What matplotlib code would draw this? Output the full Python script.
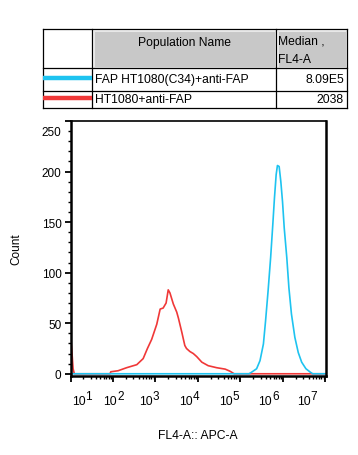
import matplotlib
matplotlib.use("Agg")
import matplotlib.pyplot as plt
import matplotlib.transforms as mtrans
from matplotlib.patches import Rectangle
from matplotlib.ticker import FixedLocator, NullFormatter

plt.rcParams['font.family'] = ['Liberation Sans', 'DejaVu Sans']

# ---------------- data ----------------
pop_names = ["FAP HT1080(C34)+anti-FAP", "HT1080+anti-FAP"]
medians = ["8.09E5", "2038"]
pop_colors = ["#1ec3f0", "#f03838"]

red_x = [10, 10.7, 11.5, 12.3, 85, 89, 132, 209, 363, 513, 646, 813, 1072, 1288,
         1514, 1778, 1995, 2188, 2630, 3162, 3467, 4169, 4898, 5370, 6457, 7762,
         9333, 12300, 17380, 27540, 43650, 56230, 61660, 70800, 1.02e7]
red_y = [37, 24, 5, 0, 0, 2, 3, 6, 9, 15, 25, 34, 49, 64,
         65, 70, 83, 80, 69, 61, 55, 41, 28, 25, 22, 20,
         17, 11.5, 8, 6, 4.6, 2.6, 1.6, 0, 0]

cyan_x = [10, 158500, 182000, 239900, 288400, 346700, 389000, 446700, 512900,
          575400, 631000, 691800, 741300, 812800, 891300, 977200, 1072000,
          1230000, 1380000, 1585000, 1905000, 2291000, 2754000, 3467000,
          4365000, 5012000, 1.02e7]
cyan_y = [0, 0, 1.5, 5, 13, 29.5, 52, 82, 115, 147, 174, 197, 206, 205, 190,
          170, 144, 115, 85, 59, 36, 21, 11.5, 5, 1.7, 0, 0]

y_ticks = [0, 50, 100, 150, 200, 250]
x_decades = [1, 2, 3, 4, 5, 6, 7]

# label shift (pixels) of each decade label relative to its tick, as drawn by the source software
x_label_shift = [10, -1, -8, -10, -13, -16, -20]

# ---------------- figure ----------------
W, H = 358, 456
fig = plt.figure(figsize=(W / 100, H / 100), dpi=100)

# table overlay in pixel coordinates
tab = fig.add_axes([0, 0, 1, 1])
tab.set_xlim(0, W)
tab.set_ylim(H, 0)
tab.axis('off')

FS = 8.7
cols = [43, 92, 276, 347]
rows = [30, 69, 91.5, 109]
for c in (1, 2):
    tab.add_patch(Rectangle((cols[c] + 1.5, rows[0] + 1.5), cols[c + 1] - cols[c] - 3,
                            rows[1] - rows[0] - 3, facecolor="#c8c8c8",
                            edgecolor="#e8e8e8", lw=0.8))
for yv in rows:
    tab.plot([cols[0], cols[-1]], [yv, yv], color="black", lw=0.9)
for xv in cols:
    tab.plot([xv, xv], [rows[0], rows[-1]], color="black", lw=0.9)

tab.text((cols[1] + cols[2]) / 2, 43, "Population Name", ha='center', va='center', fontsize=FS)
tab.text(cols[2] + 2, 41, "Median ,", ha='left', va='center', fontsize=FS)
tab.text(cols[2] + 2, 60, "FL4-A", ha='left', va='center', fontsize=FS)
for i, (nm, md, colr) in enumerate(zip(pop_names, medians, pop_colors)):
    yc = (rows[i + 1] + rows[i + 2]) / 2
    tab.plot([cols[0], cols[1]], [yc - 1.5, yc - 1.5], color=colr, lw=3.2, solid_capstyle='butt')
    tab.text(cols[1] + 3, yc - 0.5, nm, ha='left', va='center', fontsize=FS)
    tab.text(cols[3] - 3, yc - 0.5, md, ha='right', va='center', fontsize=FS)

# histogram axes
AX_L, AX_R, AX_T, AX_B = 70.5, 326, 122, 377
ax = fig.add_axes([AX_L / W, 1 - AX_B / H, (AX_R - AX_L) / W, (AX_B - AX_T) / H])
ax.plot(red_x, red_y, color=pop_colors[1], lw=1.2)
ax.plot(cyan_x, cyan_y, color=pop_colors[0], lw=1.2)
ax.set_xscale('log')
ax.set_xlim(10, 1.03e7)
ax.set_ylim(-2.2, 249.5)

ax.set_yticks(y_ticks)
ax.set_yticklabels([str(v) for v in y_ticks])
ax.yaxis.set_minor_locator(FixedLocator(list(range(0, 250, 10))))
ax.set_xticks([10.0 ** d for d in x_decades])
ax.set_xticklabels([""] * len(x_decades))
ax.xaxis.set_minor_locator(FixedLocator([m * 10.0 ** d for d in range(1, 7) for m in range(2, 10)]))
ax.xaxis.set_minor_formatter(NullFormatter())

ax.tick_params(axis='both', which='major', direction='out', length=4.5, width=1.3,
               labelsize=8.5, pad=2)
ax.tick_params(axis='both', which='minor', direction='out', length=2.5, width=1.0)
for s in ax.spines.values():
    s.set_linewidth(1.8)
ax.spines['top'].set_linewidth(1.2)

# the top count label is drawn slightly inside the axis by the source software
for lab in ax.get_yticklabels():
    if lab.get_text() == str(y_ticks[-1]):
        lab.set_transform(lab.get_transform() + mtrans.ScaledTranslation(0, -0.10, fig.dpi_scale_trans))

# decade labels: "10" with a large raised exponent
blend = mtrans.blended_transform_factory(ax.transData, ax.transAxes)
for d, sh in zip(x_decades, x_label_shift):
    t_base = blend + mtrans.ScaledTranslation((sh - 2) / 100, -(405 - AX_B) / 100, fig.dpi_scale_trans)
    ax.text(10.0 ** d, 0, "10", transform=t_base, ha='center', va='baseline',
            fontsize=8.7, clip_on=False)
    t_exp = blend + mtrans.ScaledTranslation((sh + 5) / 100, -(400 - AX_B) / 100, fig.dpi_scale_trans)
    ax.text(10.0 ** d, 0, str(d), transform=t_exp, ha='left', va='baseline',
            fontsize=8.5, clip_on=False)

ax.set_xlabel("FL4-A:: APC-A", fontsize=8.7)
ax.xaxis.set_label_coords(0.5, -(430 - AX_B) / (AX_B - AX_T))
ax.set_ylabel("Count", fontsize=8.5, labelpad=14)

fig.savefig("out.png", dpi=100)
